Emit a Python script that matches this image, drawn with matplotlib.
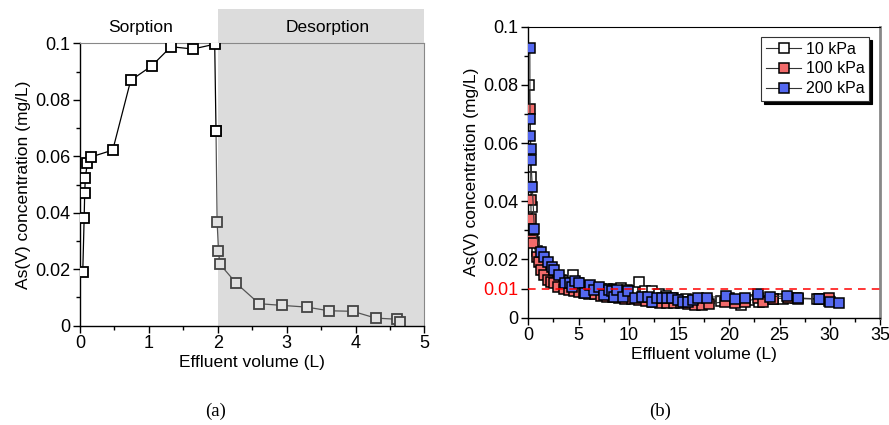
import numpy as np
import matplotlib
matplotlib.use("Agg")
from matplotlib import pyplot as plt
from matplotlib.ticker import MultipleLocator

plt.rcParams['font.family'] = ['Liberation Sans', 'DejaVu Sans']

# (a) sorption / desorption run
sorp_x = [0.04, 0.06, 0.068, 0.077, 0.106, 0.164, 0.475, 0.736, 1.04, 1.32, 1.64, 1.955, 1.974]
sorp_y = [0.0191, 0.038, 0.0469, 0.0523, 0.0577, 0.0598, 0.0622, 0.0869, 0.092, 0.0988, 0.098, 0.0997, 0.069]
desorp_x = [1.974, 1.99, 2.01, 2.03, 2.27, 2.60, 2.93, 3.29, 3.61, 3.96, 4.29, 4.60, 4.64]
desorp_y = [0.069, 0.0368, 0.0266, 0.0218, 0.015, 0.0078, 0.0072, 0.0066, 0.0053, 0.0051, 0.0027, 0.0023, 0.0014]

# (b) three pressures
x_10 = [0.1, 0.3, 0.35, 0.45, 0.6, 0.9, 1.2, 1.5, 1.9, 2.3, 2.8, 3.3, 3.8, 4.4, 4.9, 5.5,
        6.0, 6.6, 7.2, 7.8, 8.5, 9.2, 9.8, 10.4, 11.0, 11.6, 12.3, 13.0, 13.7, 14.4, 15.0,
        15.7, 16.4, 17.0, 17.8, 19.2, 20.0, 21.2, 22.2, 23.0, 24.3, 25.3, 26.6, 28.7, 29.9]
y_10 = [0.08, 0.0485, 0.038, 0.03, 0.026, 0.023, 0.02, 0.018, 0.0165, 0.015, 0.014, 0.013,
        0.0125, 0.0145, 0.012, 0.011, 0.0105, 0.0102, 0.0098, 0.01, 0.0097, 0.0102, 0.0095,
        0.0092, 0.0124, 0.0092, 0.009, 0.008, 0.0075, 0.0068, 0.0062, 0.0065, 0.0058, 0.0062,
        0.0056, 0.0058, 0.0068, 0.0045, 0.0062, 0.0055, 0.0063, 0.0065, 0.0068, 0.0065, 0.0058]

x_100 = [0.2, 0.25, 0.28, 0.33, 0.5, 0.83, 1.1, 1.3, 1.56, 2.0, 2.3, 2.55, 3.0, 3.5, 4.0,
         4.5, 5.0, 5.5, 6.0, 6.6, 7.2, 7.8, 8.4, 9.0, 9.6, 10.3, 11.0, 11.7, 12.4, 13.1,
         13.8, 14.5, 15.2, 15.9, 16.6, 17.3, 18.0, 19.6, 20.6, 21.6, 22.9, 23.4, 24.3, 25.8,
         26.8, 29.0, 29.95]
y_100 = [0.0716, 0.0404, 0.034, 0.0267, 0.0256, 0.021, 0.0192, 0.0164, 0.0147, 0.013, 0.0124,
         0.0118, 0.0105, 0.0098, 0.0095, 0.009, 0.0088, 0.0085, 0.0082, 0.008, 0.0075, 0.0072,
         0.007, 0.0068, 0.0065, 0.0063, 0.006, 0.0058, 0.0055, 0.0052, 0.005, 0.0052, 0.005,
         0.0048, 0.0045, 0.0044, 0.0048, 0.0055, 0.0052, 0.0055, 0.0068, 0.0055, 0.0065,
         0.0068, 0.0065, 0.0065, 0.0066]

x_200 = [0.15, 0.17, 0.2, 0.22, 0.25, 0.4, 0.6, 1.25, 1.6, 1.95, 2.35, 2.6, 3.1, 3.6, 4.1,
         4.3, 4.6, 5.0, 5.6, 6.1, 6.5, 7.05, 7.5, 8.05, 8.3, 8.55, 8.8, 9.45, 9.95, 10.6,
         11.3, 11.9, 12.3, 12.8, 13.3, 13.8, 14.3, 14.9, 15.4, 15.9, 16.4, 16.9, 17.75,
         19.7, 20.6, 21.6, 22.9, 24.1, 25.7, 26.8, 28.9, 30.0, 30.95]
y_200 = [0.0926, 0.0683, 0.0624, 0.0579, 0.0541, 0.0448, 0.0304, 0.0227, 0.021, 0.0192,
         0.0175, 0.0164, 0.0147, 0.0118, 0.012, 0.0107, 0.0127, 0.0118, 0.0084, 0.0112,
         0.0095, 0.0107, 0.0078, 0.0095, 0.009, 0.0072, 0.0095, 0.0072, 0.009, 0.0067,
         0.0072, 0.0072, 0.0055, 0.0067, 0.0067, 0.0067, 0.0067, 0.006, 0.0055, 0.0055,
         0.006, 0.0067, 0.0069, 0.0075, 0.0063, 0.0069, 0.008, 0.0072, 0.0075, 0.0067,
         0.0064, 0.0053, 0.0049]

limit = 0.01

fig = plt.figure(figsize=(8.89, 4.25), dpi=100)
ax1 = fig.add_axes([0.090, 0.2336, 0.3875, 0.6644])
ax2 = fig.add_axes([0.5943, 0.2525, 0.3956, 0.6847])

fs_tick = 13
fs_lab = 12.5

def style(ax):
    ax.tick_params(which='both', direction='out', labelsize=fs_tick, width=1)
    ax.tick_params(which='major', length=5, pad=2)
    ax.tick_params(which='minor', length=3)
    for s in ['left', 'bottom']:
        ax.spines[s].set_linewidth(1)

# ---- panel (a)
span = ax1.axvspan(2, 5, ymin=0, ymax=1.12, color='#dcdcdc', zorder=0, lw=0)
span.set_clip_on(False)
ax1.plot(sorp_x, sorp_y, '-s', color='black', lw=0.9, ms=6.5, mfc='white',
         mec='black', mew=1.3, zorder=3)
ax1.plot(desorp_x, desorp_y, '-s', color='#555555', lw=0.9, ms=6.5, mfc='#e2e2e2',
         mec='#444444', mew=1.3, zorder=2)
ax1.set_xlim(0, 5)
ax1.set_ylim(0, 0.1)
ax1.set_xticks([0, 1, 2, 3, 4, 5])
ax1.set_xticklabels(['0', '1', '2', '3', '4', '5'])
ax1.set_yticks([0, 0.02, 0.04, 0.06, 0.08, 0.1])
ax1.set_yticklabels(['0', '0.02', '0.04', '0.06', '0.08', '0.1'])
ax1.xaxis.set_minor_locator(MultipleLocator(0.5))
ax1.yaxis.set_minor_locator(MultipleLocator(0.01))
style(ax1)
ax1.spines['top'].set_color('#888888')
ax1.spines['right'].set_color('#888888')
ax1.set_xlabel('Effluent volume (L)', fontsize=fs_lab, labelpad=2)
ax1.set_ylabel('As(V) concentration (mg/L)', fontsize=fs_lab, labelpad=3)
ax1.text(0.177, 1.055, 'Sorption', transform=ax1.transAxes, ha='center', va='center', fontsize=fs_lab)
ax1.text(0.72, 1.055, 'Desorption', transform=ax1.transAxes, ha='center', va='center', fontsize=fs_lab)

# ---- panel (b)
mk = dict(marker='s', ms=7, mew=1.1, mec='black', lw=0.8, color='#333333')
ax2.plot(x_10, y_10, mfc='white', label='10 kPa', zorder=2, **mk)
ax2.plot(x_100, y_100, mfc='#f26b6b', label='100 kPa', zorder=3, **mk)
ax2.plot(x_200, y_200, mfc='#5468f0', label='200 kPa', zorder=4, **mk)
ax2.axhline(limit, color='red', ls=(0, (5, 4)), lw=1.1, zorder=5)
ax2.set_xlim(0, 35)
ax2.set_ylim(0, 0.1)
ax2.set_xticks(range(0, 36, 5))
ax2.set_xticklabels([str(v) for v in range(0, 36, 5)])
ax2.set_yticks([0, 0.01, 0.02, 0.04, 0.06, 0.08, 0.1])
ax2.set_yticklabels(['0', '0.01', '0.02', '0.04', '0.06', '0.08', '0.1'])
ax2.get_yticklabels()[1].set_color('red')
ax2.xaxis.set_minor_locator(MultipleLocator(2.5))
ax2.yaxis.set_minor_locator(MultipleLocator(0.01))
style(ax2)
ax2.spines['right'].set_color('#888888')
ax2.spines['right'].set_linewidth(2)
ax2.set_xlabel('Effluent volume (L)', fontsize=fs_lab, labelpad=2)
ax2.set_ylabel('As(V) concentration (mg/L)', fontsize=fs_lab, labelpad=3)
leg = ax2.legend(loc='upper right', bbox_to_anchor=(0.97, 0.965), fontsize=11.5,
                 fancybox=False, handlelength=2.2, handletextpad=0.3, borderpad=0.3,
                 labelspacing=0.3, borderaxespad=0, edgecolor='#333333', framealpha=1,
                 shadow={'facecolor': 'black', 'edgecolor': 'black', 'alpha': 1})
leg.get_frame().set_linewidth(0.8)

fig.text(0.242, 0.032, '(a)', family='Liberation Serif', fontsize=13.5, ha='center', va='center')
fig.text(0.742, 0.032, '(b)', family='Liberation Serif', fontsize=13.5, ha='center', va='center')

fig.savefig('out.png', dpi=100)
